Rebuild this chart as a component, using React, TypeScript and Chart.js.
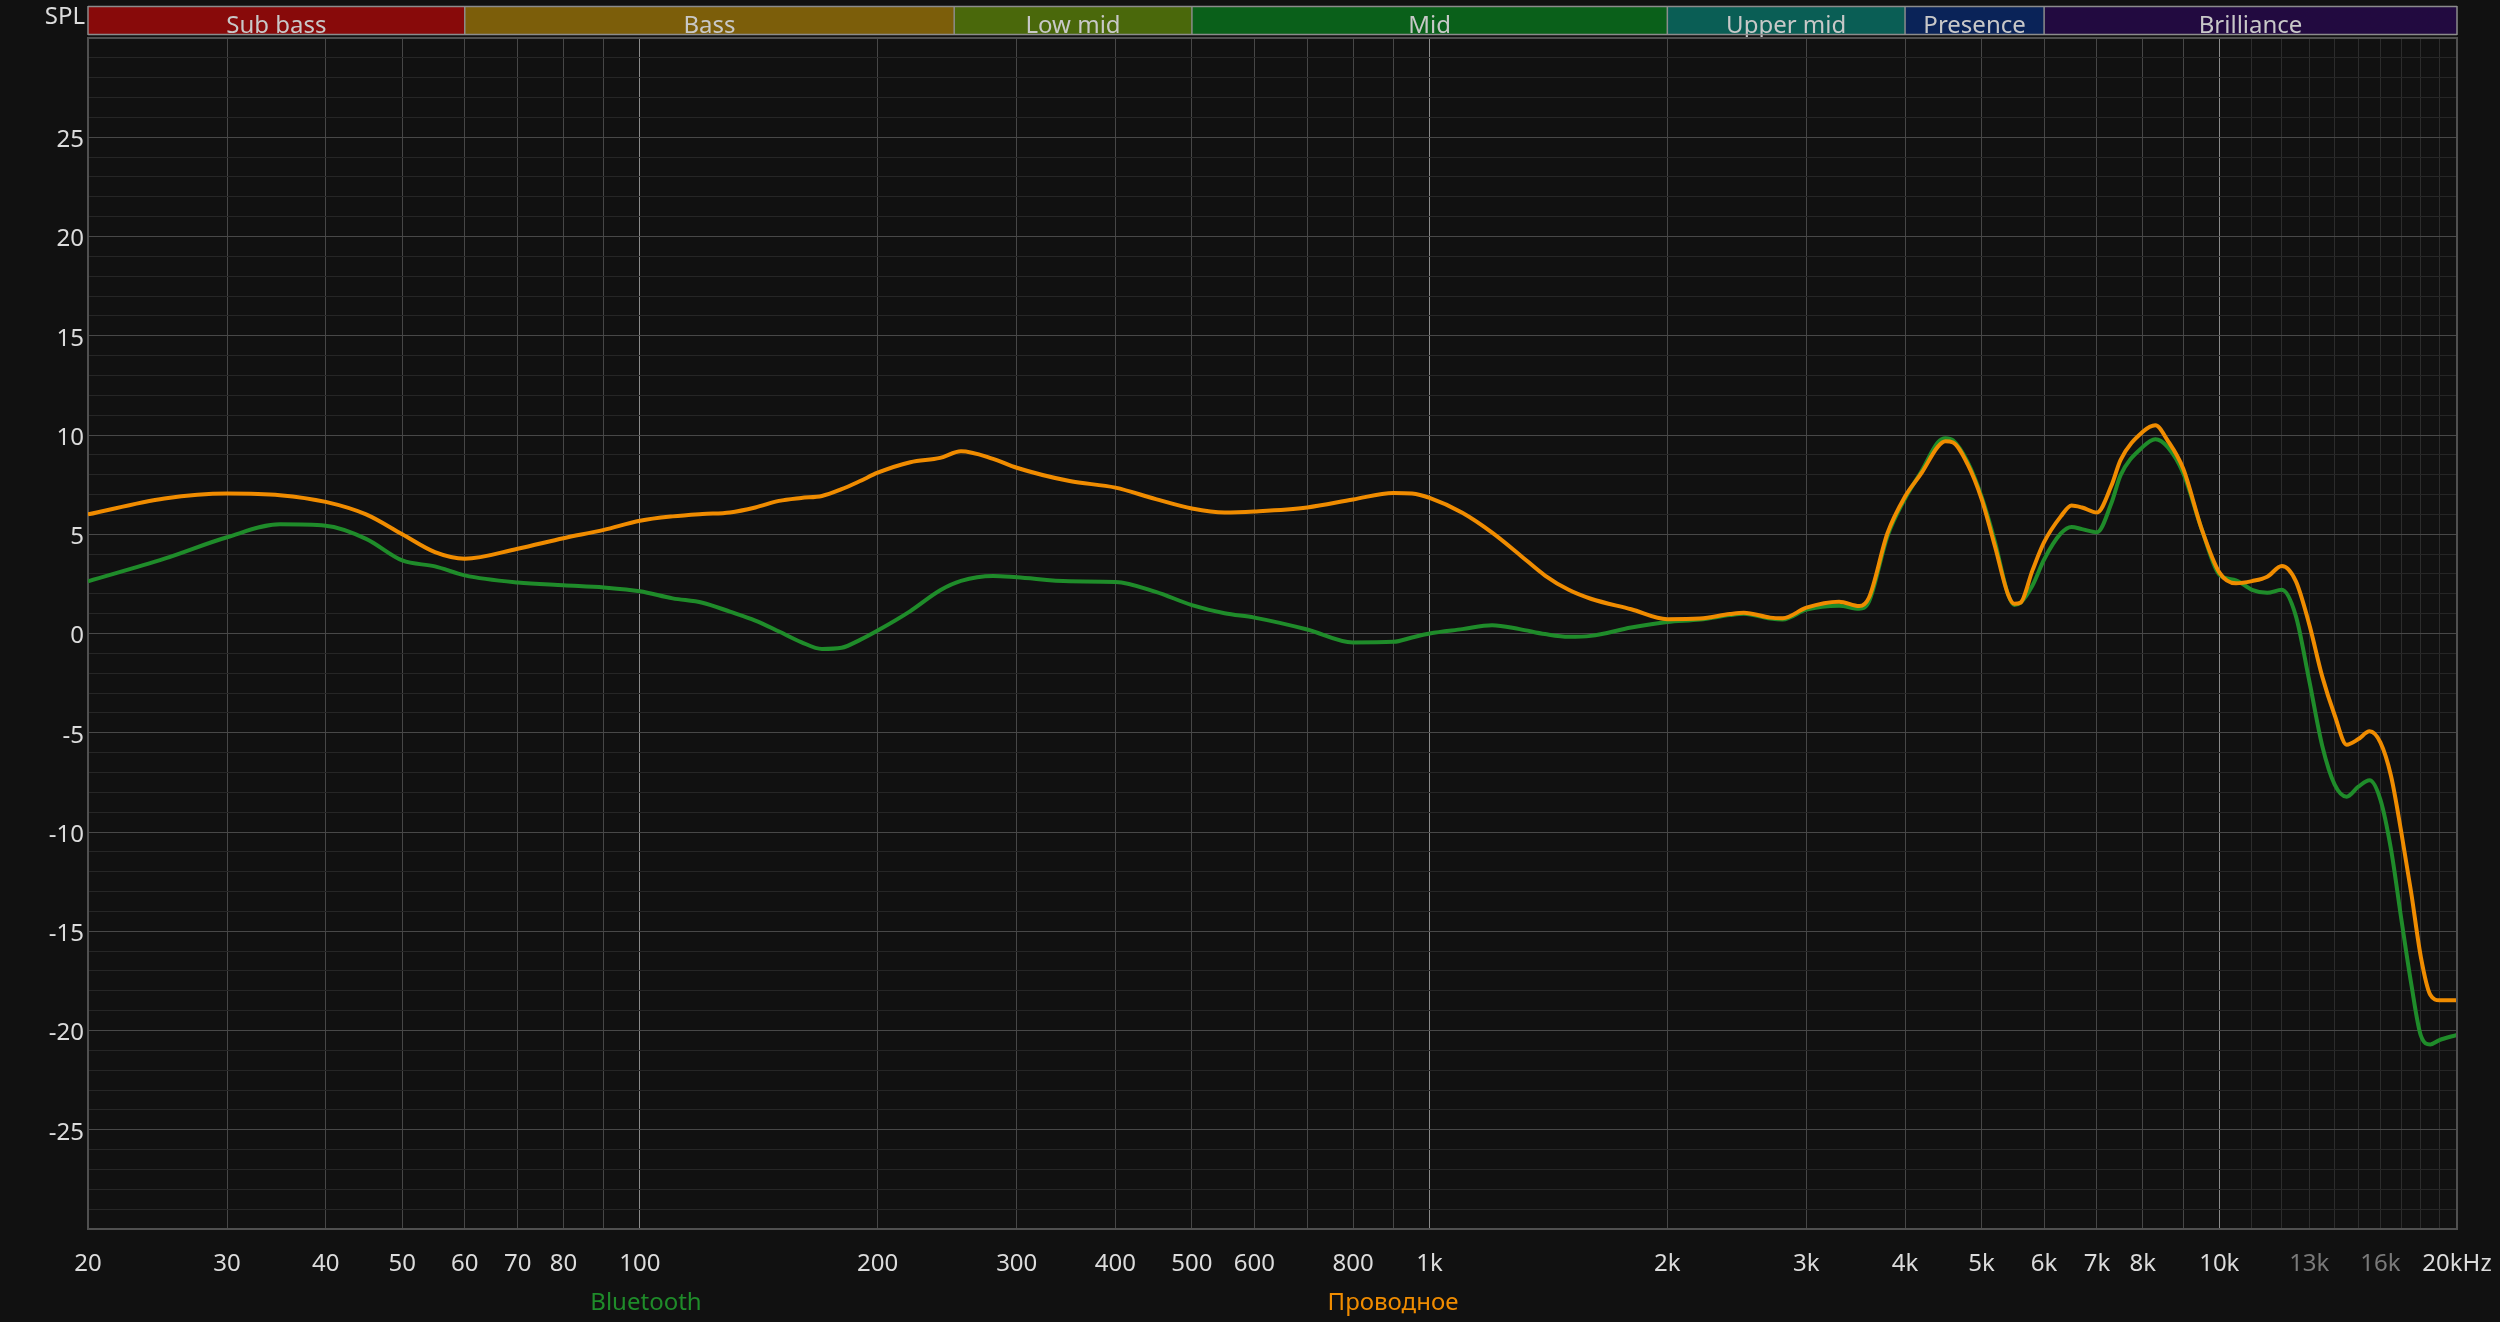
import React, { useEffect, useRef } from 'react';
import { Chart, registerables } from 'chart.js';

Chart.register(...registerables);

// ---------- data ----------
const FREQ_HZ = [
  20, 25, 30, 35, 40, 45, 50, 55, 60, 70, 80, 90, 100,
  110, 120, 130, 140, 150, 160, 170, 180, 190, 200,
  220, 240, 255, 280, 300, 350, 400, 450, 500,
  550, 600, 700, 800, 900, 950, 1000,
  1100, 1200, 1300, 1400, 1500, 1600, 1800, 2000,
  2200, 2400, 2500, 2700, 2800, 3000, 3300, 3500, 3600, 3800, 4000,
  4200, 4400, 4500, 4600, 4800, 5000, 5200, 5400, 5500, 5600, 5800, 6000,
  6300, 6500, 6700, 7000, 7300, 7500, 8000, 8300, 8600, 9000, 9500, 10000,
  10500, 11000, 11500, 12000, 12500, 13000, 13500, 14000, 14500, 15000,
  15500, 16000, 16500, 17000, 17500, 18000, 18500, 19000, 20000,
];

const BLUETOOTH_DB = [
  2.63, 3.77, 4.85, 5.5, 5.43, 4.77, 3.68, 3.38, 2.93, 2.57, 2.43, 2.32, 2.13,
  1.77, 1.55, 1.1, 0.65, 0.1, -0.43, -0.78, -0.72, -0.32, 0.15,
  1.13, 2.18, 2.65, 2.9, 2.83, 2.63, 2.6, 2.1, 1.43,
  1.02, 0.8, 0.2, -0.45, -0.42, -0.2, 0.0,
  0.22, 0.42, 0.22, -0.03, -0.17, -0.12, 0.3, 0.58,
  0.7, 0.93, 1.0, 0.75, 0.7, 1.2, 1.4, 1.25, 1.6, 4.9, 6.8,
  8.2, 9.62, 9.84, 9.73, 8.64, 6.89, 4.6, 1.98, 1.44, 1.55, 2.42, 3.73,
  5.04, 5.37, 5.26, 5.1, 6.56, 7.98, 9.4, 9.79, 9.4, 8.09, 5.26, 2.97,
  2.68, 2.2, 2.05, 2.2, 0.89, -2.38, -5.65, -7.61, -8.22, -7.72,
  -7.39, -8.38, -10.88, -14.37, -17.64, -20.26, -20.7, -20.48, -20.22,
];

const WIRED_DB = [
  6.0, 6.8, 7.05, 6.97, 6.63, 6.0, 5.0, 4.1, 3.77, 4.27, 4.8, 5.22, 5.68,
  5.9, 6.02, 6.1, 6.35, 6.68, 6.83, 6.93, 7.27, 7.68, 8.1,
  8.63, 8.85, 9.18, 8.8, 8.35, 7.68, 7.35, 6.77, 6.3,
  6.1, 6.15, 6.35, 6.75, 7.08, 7.05, 6.83,
  6.08, 5.08, 3.97, 2.92, 2.2, 1.75, 1.22, 0.72,
  0.75, 0.98, 1.05, 0.8, 0.77, 1.3, 1.6, 1.38, 1.8, 5.05, 6.9,
  8.1, 9.4, 9.68, 9.62, 8.53, 6.78, 4.38, 1.98, 1.5, 1.55, 3.18, 4.6,
  5.9, 6.45, 6.35, 6.1, 7.44, 8.75, 10.16, 10.49, 9.73, 8.31, 5.26, 3.08,
  2.53, 2.64, 2.86, 3.4, 2.64, 0.46, -2.16, -4.12, -5.6, -5.32,
  -4.93, -5.5, -7.18, -10.0, -13.06, -16.3, -18.2, -18.47, -18.47,
];

const SERIES_NAMES = ['Bluetooth', 'Проводное'];

const X_GRID_HZ = [
  20, 30, 40, 50, 60, 70, 80, 90, 100,
  200, 300, 400, 500, 600, 700, 800, 900, 1000,
  2000, 3000, 4000, 5000, 6000, 7000, 8000, 9000, 10000,
  11000, 12000, 13000, 14000, 15000, 16000, 17000, 18000, 19000, 20000,
];
const X_TICK_VALUES = [20, 30, 40, 50, 60, 70, 80, 100, 200, 300, 400, 500, 600, 800, 1000, 2000, 3000, 4000, 5000, 6000, 7000, 8000, 10000, 13000, 16000, 20000];
const X_TICK_TEXT = ['20', '30', '40', '50', '60', '70', '80', '100', '200', '300', '400', '500', '600', '800', '1k', '2k', '3k', '4k', '5k', '6k', '7k', '8k', '10k', '13k', '16k', '20kHz'];
const X_DIM_TICKS = [13000, 16000];
const X_DECADES = [100, 1000, 10000];

const Y_MIN = -30;
const Y_MAX = 30;

const BAND_NAMES = ['Sub bass', 'Bass', 'Low mid', 'Mid', 'Upper mid', 'Presence', 'Brilliance'];
const BAND_EDGES_HZ = [20, 60, 250, 500, 2000, 4000, 6000, 20000];
const BAND_COLORS = ['#880a0a', '#7c5e0a', '#4a680b', '#0a601a', '#0a5e55', '#0a2358', '#220a40'];

// ---------- style ----------
const FONT = '"Noto Sans", "Open Sans", sans-serif';
const BG = '#111111';
const GREEN = '#1f8c2a';
const ORANGE = '#f08c00';

const framePlugin = {
  id: 'frame',
  beforeDraw(chart: any) {
    const { ctx, width, height } = chart;
    ctx.save();
    ctx.fillStyle = BG;
    ctx.fillRect(0, 0, width, height);
    ctx.restore();
  },
  afterDraw(chart: any) {
    const { ctx, chartArea, width } = chart;
    const xs = chart.scales.x;
    ctx.save();
    // frequency bands header
    const top = 6;
    const bot = 35;
    for (let i = 0; i < BAND_NAMES.length; i++) {
      const x0 = xs.getPixelForValue(BAND_EDGES_HZ[i]);
      const x1 = xs.getPixelForValue(BAND_EDGES_HZ[i + 1]);
      ctx.fillStyle = BAND_COLORS[i];
      ctx.fillRect(x0, top, x1 - x0, bot - top);
      ctx.fillStyle = '#c8c8c8';
      ctx.font = `24px ${FONT}`;
      ctx.textAlign = 'center';
      ctx.textBaseline = 'alphabetic';
      ctx.fillText(BAND_NAMES[i], (x0 + x1) / 2, 33);
    }
    ctx.strokeStyle = '#8c8c8c';
    ctx.lineWidth = 1.5;
    const xl = xs.getPixelForValue(BAND_EDGES_HZ[0]);
    const xr = xs.getPixelForValue(BAND_EDGES_HZ[BAND_EDGES_HZ.length - 1]);
    ctx.beginPath();
    ctx.moveTo(xl, top + 0.5);
    ctx.lineTo(xr, top + 0.5);
    ctx.moveTo(xl, bot - 0.5);
    ctx.lineTo(xr, bot - 0.5);
    for (let i = 0; i < BAND_EDGES_HZ.length; i++) {
      const x = xs.getPixelForValue(BAND_EDGES_HZ[i]);
      ctx.moveTo(x, top);
      ctx.lineTo(x, bot);
    }
    ctx.stroke();

    // plot frame top & right
    ctx.strokeStyle = '#505050';
    ctx.lineWidth = 2;
    ctx.beginPath();
    ctx.moveTo(chartArea.left, chartArea.top);
    ctx.lineTo(chartArea.right, chartArea.top);
    ctx.lineTo(chartArea.right, chartArea.bottom);
    ctx.stroke();

    // SPL label
    ctx.fillStyle = '#dcdcdc';
    ctx.font = `24px ${FONT}`;
    ctx.textAlign = 'right';
    ctx.textBaseline = 'alphabetic';
    ctx.fillText('SPL', chartArea.left - 3, 24);

    // legend
    ctx.textAlign = 'center';
    ctx.fillStyle = GREEN;
    ctx.fillText(SERIES_NAMES[0], width * 0.2584, 1310);
    ctx.fillStyle = ORANGE;
    ctx.fillText(SERIES_NAMES[1], width * 0.5572, 1310);
    ctx.restore();
  },
};

export default function App() {
  const canvasRef = useRef<HTMLCanvasElement | null>(null);

  useEffect(() => {
    document.body.style.margin = '0';
    document.body.style.background = BG;
    const canvas = canvasRef.current;
    if (!canvas) return;

    const btPts = FREQ_HZ.map((f, i) => ({ x: f, y: BLUETOOTH_DB[i] }));
    const wiredPts = FREQ_HZ.map((f, i) => ({ x: f, y: WIRED_DB[i] }));

    const chart = new Chart(canvas, {
      type: 'line',
      data: {
        datasets: [
          {
            label: SERIES_NAMES[1],
            data: wiredPts,
            borderColor: ORANGE,
            borderWidth: 4,
            pointRadius: 0,
            cubicInterpolationMode: 'monotone',
            fill: false,
          },
          {
            label: SERIES_NAMES[0],
            data: btPts,
            borderColor: GREEN,
            borderWidth: 4,
            pointRadius: 0,
            cubicInterpolationMode: 'monotone',
            fill: false,
          },
        ],
      },
      options: {
        animation: false,
        responsive: false,
        devicePixelRatio: 1,
        layout: { padding: { top: 38, right: 43, left: 0, bottom: 0 } },
        plugins: {
          legend: { display: false },
          tooltip: { enabled: false },
          title: { display: false },
        },
        scales: {
          x: {
            type: 'logarithmic',
            min: 20,
            max: 20000,
            afterBuildTicks: (scale: any) => {
              scale.ticks = X_GRID_HZ.map((v) => ({ value: v }));
            },
            afterFit: (scale: any) => {
              scale.height = 93;
              scale.paddingLeft = 0;
              scale.paddingRight = 0;
            },
            grid: {
              drawTicks: false,
              lineWidth: 1,
              color: (ctx: any) => {
                const v = ctx.tick ? ctx.tick.value : 0;
                if (X_DECADES.includes(v)) return '#8a8a8a';
                if (v > 10000) return '#2c2c2c';
                return '#474747';
              },
            },
            border: { color: '#505050', width: 2 },
            ticks: {
              autoSkip: false,
              maxRotation: 0,
              minRotation: 0,
              padding: 21,
              font: { size: 24, family: FONT },
              color: (ctx: any) => (ctx.tick && X_DIM_TICKS.includes(ctx.tick.value) ? '#7a7a7a' : '#dcdcdc'),
              callback: (value: any) => {
                const idx = X_TICK_VALUES.indexOf(Number(value));
                return idx >= 0 ? X_TICK_TEXT[idx] : '';
              },
            },
          },
          y: {
            type: 'linear',
            min: Y_MIN,
            max: Y_MAX,
            afterFit: (scale: any) => {
              scale.width = 88;
            },
            grid: {
              drawTicks: false,
              lineWidth: 1,
              color: (ctx: any) => {
                const v = ctx.tick ? ctx.tick.value : 0;
                return v % 5 === 0 ? '#484848' : '#262626';
              },
            },
            border: { color: '#505050', width: 2 },
            ticks: {
              stepSize: 1,
              autoSkip: false,
              padding: 4,
              labelOffset: 3,
              font: { size: 24, family: FONT },
              color: '#dcdcdc',
              callback: (value: any) => {
                const v = Number(value);
                return v % 5 === 0 && Math.abs(v) < 30 ? String(v) : '';
              },
            },
          },
        },
      },
      plugins: [framePlugin],
    } as any);

    return () => {
      chart.destroy();
    };
  }, []);

  return (
    <div style={{ position: 'absolute', left: 0, top: 0, width: 2500, height: 1322, background: BG }}>
      <canvas ref={canvasRef} width={2500} height={1322} style={{ display: 'block', width: 2500, height: 1322 }} />
    </div>
  );
}
